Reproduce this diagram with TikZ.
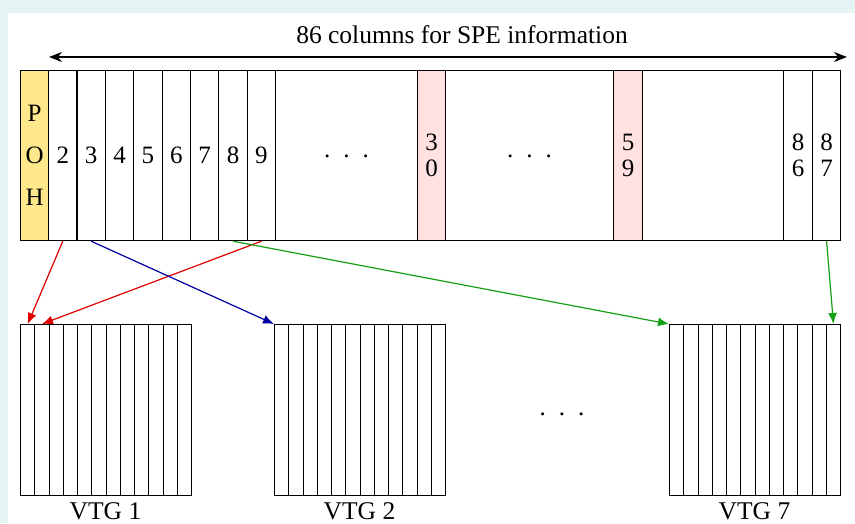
\documentclass[tikz,border=0pt]{standalone}
\usepackage{fontspec}
\setmainfont{Liberation Serif}
\usetikzlibrary{arrows.meta}
\definecolor{bgcyan}{RGB}{228,244,245}
\definecolor{pohyellow}{RGB}{255,232,140}
\definecolor{colpink}{RGB}{255,225,225}
\definecolor{arred}{RGB}{225,0,0}
\definecolor{arblue}{RGB}{0,0,160}
\definecolor{argreen}{RGB}{20,160,20}
\newcommand{\threedots}{\raisebox{-5pt}{.\hspace{13pt}.\hspace{13pt}.}}
\begin{document}
\begin{tikzpicture}[x=1pt,y=-1pt,
  cell/.style={draw=black, line width=1.2pt, inner sep=0pt, anchor=north west,
    minimum height=170pt, align=center, font=\fontsize{25}{26}\selectfont},
  vbox/.style={draw=black, line width=1.2pt, inner sep=0pt, anchor=north west,
    minimum width=171pt, minimum height=171pt},
  vcell/.style={draw=black, line width=1.2pt, inner sep=0pt, anchor=north west,
    minimum width=14.25pt, minimum height=171pt},
  caption/.style={anchor=base, inner sep=0pt, font=\fontsize{25.5}{26}\selectfont},
  ellip/.style={inner sep=0pt, font=\fontsize{25}{26}\selectfont},
  link/.style={line width=1.2pt, -{Latex[length=11pt,width=9pt]}}]
\useasboundingbox (0,0) rectangle (855,523);
% page background with white sheet
\fill[bgcyan] (0,0) rectangle (855,523);
\fill[white] (8,13) rectangle (855,523);

% span arrow and its caption
\node[caption] (title) at (462,43) {86 columns for SPE information};
\coordinate (spanL) at (49,57);
\coordinate (spanR) at (847,57);
\draw[line width=1.3pt, {Stealth[length=13pt,width=10pt]}-{Stealth[length=13pt,width=10pt]}] (spanL) -- (spanR);

% the SPE row
\node[cell, fill=pohyellow, minimum width=28pt, font=\fontsize{25}{42}\selectfont] (poh) at (20,70) {P\\O\\H};
\foreach \k [evaluate=\k as \xx using {48+(\k-2)*28.375}] in {2,...,9}
  \node[cell, minimum width=28.375pt] (c\k) at (\xx,70) {\k};
\node[cell, minimum width=142pt] (gapA) at (275,70) {\threedots};
\node[cell, fill=colpink, minimum width=28pt] (c30) at (417,70) {3\\0};
\node[cell, minimum width=168pt] (gapB) at (445,70) {\threedots};
\node[cell, fill=colpink, minimum width=29pt] (c59) at (613,70) {5\\9};
\node[cell, minimum width=141pt] (gapC) at (642,70) {};
\node[cell, minimum width=29pt] (c86) at (783,70) {8\\6};
\node[cell, minimum width=28pt] (c87) at (812,70) {8\\7};

% virtual tributary groups
\foreach \b/\x in {1/20, 2/274, 7/669} {
  \node[vbox] (vtg\b) at (\x,324) {};
  \foreach \i in {1,...,12}
    \node[vcell] (v\b-\i) at ({\x+(\i-1)*14.25},324) {};
  \node[caption] (lab\b) at ({\x+85.5},519) {VTG \b};
}
\node[ellip] (vdots) at (562,413) {\threedots};

% column mapping
\draw[link, arred] (c2.south) -- (v1-1.north);
\draw[link, arred] (c9.south) -- (v1-2.north);
\draw[link, arblue] (c3.south) -- (vtg2.north west);
\draw[link, argreen] (c8.south) -- (vtg7.north west);
\draw[link, argreen] (c87.south) -- (v7-12.north);
\end{tikzpicture}
\end{document}
